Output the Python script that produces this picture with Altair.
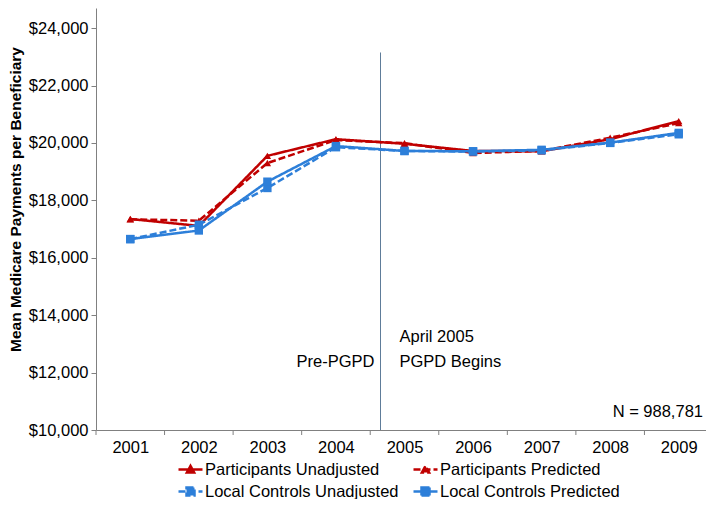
import altair as alt
import pandas as pd

FONT = "Liberation Sans"
FS = 16.5

years = [2001, 2002, 2003, 2004, 2005, 2006, 2007, 2008, 2009]
series_names = [
    "Participants Unadjusted",
    "Participants Predicted",
    "Local Controls Unadjusted",
    "Local Controls Predicted",
]
participants_unadjusted = [17350, 17110, 19550, 20130, 19970, 19720, 19710, 20130, 20760]
participants_predicted = [17340, 17290, 19300, 20100, 19990, 19650, 19720, 20180, 20690]
controls_unadjusted = [16650, 17150, 18430, 19850, 19720, 19700, 19740, 20000, 20300]
controls_predicted = [16650, 16950, 18650, 19890, 19720, 19710, 19760, 20010, 20350]

series_colors = ["#C00000", "#C00000", "#2D7FD9", "#2D7FD9"]
series_dashes = [[1, 0], [7, 3], [7, 3], [1, 0]]
series_markers = ["triangle-up", "triangle-up", "square", "square"]
legend_paths = [
    "M-1.2,0H1.2M-0.36,0.3L0,-0.36L0.36,0.3Z",
    "M-1.2,0H1.2M-0.36,0.3L0,-0.36L0.36,0.3Z",
    "M-1.2,0H1.2M-0.4,-0.4H0.4V0.4H-0.4Z",
    "M-1.2,0H1.2M-0.4,-0.4H0.4V0.4H-0.4Z",
]
marker_sizes = [55, 55, 70, 70]

y_ticks = [10000, 12000, 14000, 16000, 18000, 20000, 22000, 24000]
pgpd_start = 2004.65
pgpd_line_top = 23150
ann_left_text = ["Pre-PGPD"]
ann_left_y = [12380]
ann_right_text = ["April 2005", "PGPD Begins"]
ann_right_y = [13250, 12380]
n_text = "N = 988,781"
n_y = 10630

all_values = [participants_unadjusted, participants_predicted, controls_unadjusted, controls_predicted]
df = pd.DataFrame({
    "year": years * 4,
    "value": sum(all_values, []),
    "series": [s for s in series_names for _ in years],
})
boundaries = pd.DataFrame({"b": [y - 0.5 for y in years] + [years[-1] + 0.5]})

W, H = 617, 422
x_scale = alt.Scale(domain=[years[0] - 0.5, years[-1] + 0.5], nice=False, zero=False)
y_scale = alt.Scale(domain=[10000, 24700], nice=False, zero=False)

x_axis = alt.Axis(values=years, format="d", title=None, ticks=False, tickSize=0, labelPadding=9,
                  grid=False, domainColor="#808080", labelFontSize=FS, labelColor="black",
                  labelFont=FONT, labelFlush=False)
y_axis = alt.Axis(values=y_ticks, format="$,.0f", title="Mean Medicare Payments per Beneficiary",
                  grid=False, domainColor="#808080", tickColor="#808080", tickSize=5, labelPadding=3,
                  labelFontSize=FS, labelColor="black", labelFont=FONT, titleFont=FONT,
                  titleFontSize=15.5, titleFontWeight="bold", titleColor="black", titlePadding=5,
                  titleY=191)


def X(field):
    return alt.X(field, scale=x_scale, axis=x_axis)


def Y(field):
    return alt.Y(field, scale=y_scale, axis=y_axis)


base = alt.Chart(df)

ticks = alt.Chart(boundaries).mark_rule(color="#808080", strokeWidth=1).encode(
    x=X("b:Q"), y=alt.value(H), y2=alt.value(H + 5)
)

vline = alt.Chart(pd.DataFrame({"x": [pgpd_start], "y0": [10000], "y1": [pgpd_line_top]})).mark_rule(
    color="#5E7C99", strokeWidth=1
).encode(x=X("x:Q"), y=Y("y0:Q"), y2="y1:Q")

layers = [ticks, vline]
for i, s in enumerate(series_names):
    sub = base.transform_filter(alt.datum.series == s)
    layers.append(sub.mark_line(color=series_colors[i], strokeWidth=2.5,
                                strokeDash=series_dashes[i]).encode(x=X("year:Q"), y=Y("value:Q")))
    layers.append(sub.mark_point(shape=series_markers[i], filled=True, opacity=1,
                                 color=series_colors[i], size=marker_sizes[i]).encode(
        x=X("year:Q"), y=Y("value:Q")))

leg = alt.Legend(title=None, orient="none", legendX=83, legendY=450, direction="horizontal",
                 columns=2, columnPadding=9, rowPadding=2, symbolSize=400, symbolStrokeWidth=2.5,
                 labelFontSize=FS, labelFont=FONT, labelColor="black", labelOffset=3, labelLimit=400)

legend_layer = base.transform_filter("false").mark_point(
    filled=True, opacity=1, size=400, strokeWidth=2.5
).encode(
    fill=alt.Fill("series:N", scale=alt.Scale(domain=series_names, range=series_colors), legend=leg),
    stroke=alt.Stroke("series:N", scale=alt.Scale(domain=series_names, range=series_colors), legend=leg),
    shape=alt.Shape("series:N", scale=alt.Scale(domain=series_names, range=legend_paths), legend=leg),
    strokeDash=alt.StrokeDash("series:N", scale=alt.Scale(domain=series_names, range=series_dashes), legend=leg),
)

ann_l = alt.Chart(pd.DataFrame({"t": ann_left_text, "x": [pgpd_start] * len(ann_left_text), "y": ann_left_y})).mark_text(
    align="right", baseline="middle", dx=-6, fontSize=FS, font=FONT, color="black"
).encode(x=X("x:Q"), y=Y("y:Q"), text="t:N")

ann_r = alt.Chart(pd.DataFrame({"t": ann_right_text, "x": [pgpd_start] * len(ann_right_text), "y": ann_right_y})).mark_text(
    align="left", baseline="middle", dx=19, fontSize=FS, font=FONT, color="black"
).encode(x=X("x:Q"), y=Y("y:Q"), text="t:N")

ann_n = alt.Chart(pd.DataFrame({"t": [n_text], "x": [years[-1] + 0.5], "y": [n_y]})).mark_text(
    align="right", baseline="middle", dx=-10, fontSize=FS, font=FONT, color="black"
).encode(x=X("x:Q"), y=Y("y:Q"), text="t:N")

layers += [ann_l, ann_r, ann_n, legend_layer]

chart = alt.layer(*layers).properties(
    width=W, height=H,
    padding={"left": 88, "top": 0, "right": -7, "bottom": 69},
    autosize=alt.AutoSizeParams(type="none"),
).configure_view(stroke=None)

chart.save("out.html", embed_options={"renderer": "svg", "actions": False})
